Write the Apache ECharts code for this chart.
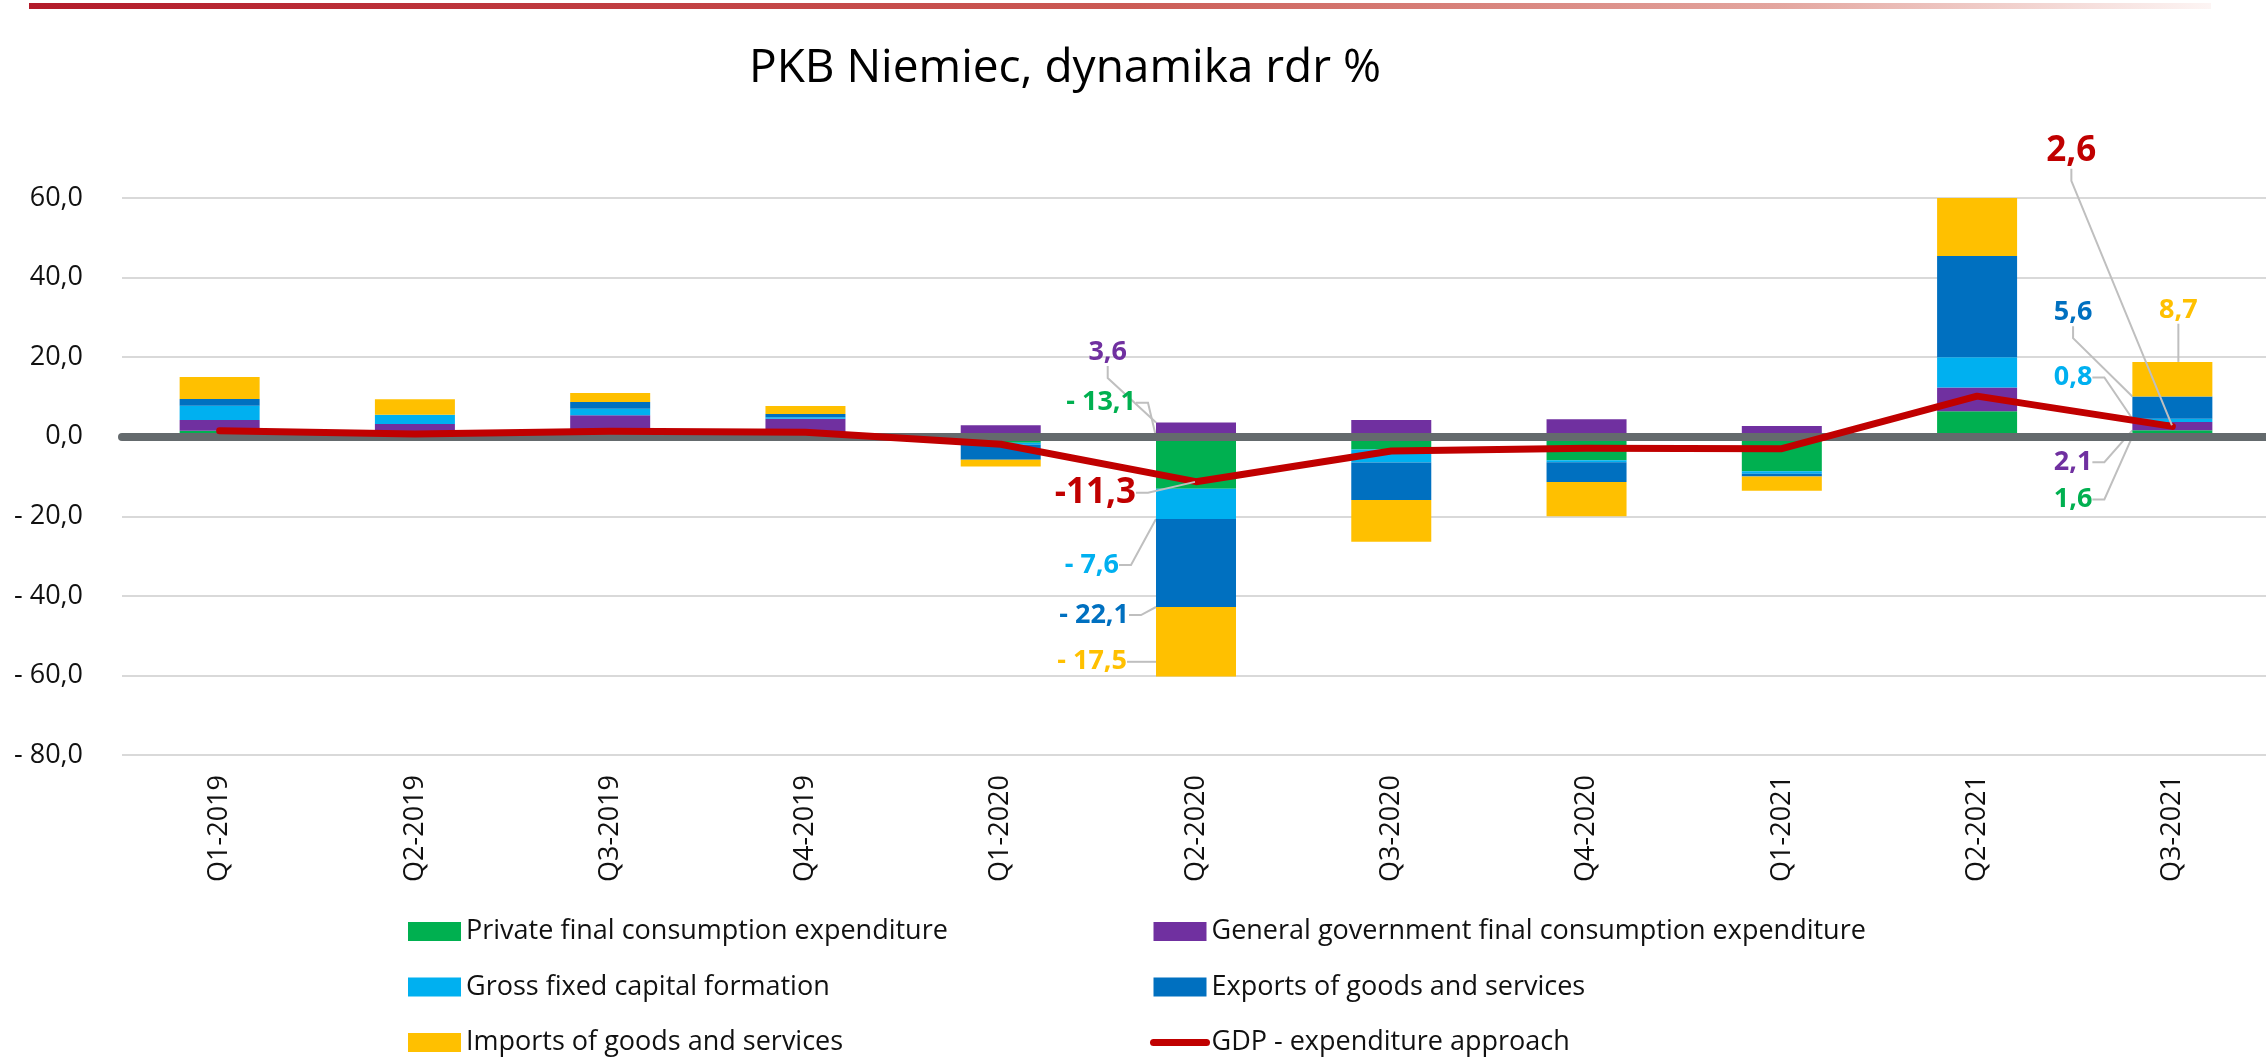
<!DOCTYPE html>
<html>
<head>
<meta charset="utf-8">
<title>PKB Niemiec, dynamika rdr %</title>
<script src="https://cdn.jsdelivr.net/npm/echarts@6.0.0/dist/echarts.min.js"></script>
<style>
  html, body { margin: 0; padding: 0; background: #fff; }
  #chart { width: 2266px; height: 1060px; }
</style>
</head>
<body>
<div id="chart"></div>
<script>
const quarters = ["Q1-2019", "Q2-2019", "Q3-2019", "Q4-2019", "Q1-2020", "Q2-2020",
  "Q3-2020", "Q4-2020", "Q1-2021", "Q2-2021", "Q3-2021"];

const privateCons = [1.5, 0.6, 1.6, 0.8, -1.5, -13.1, -3.2, -5.9, -8.7, 6.4, 1.6];
const govCons = [2.7, 2.6, 3.8, 3.7, 2.9, 3.6, 4.2, 4.4, 2.7, 6.0, 2.1];
const gfcf = [3.6, 2.3, 1.6, 0.4, -0.5, -7.6, -3.3, -0.5, -0.6, 7.6, 0.8];
const exportsGs = [1.7, -0.3, 1.7, 0.8, -3.8, -22.1, -9.4, -5.0, -0.7, 25.4, 5.6];
const importsGs = [5.5, 3.9, 2.3, 2.0, -1.7, -17.5, -10.5, -8.6, -3.6, 14.6, 8.7];
const gdp = [1.5, 0.7, 1.4, 1.1, -1.9, -11.3, -3.6, -2.9, -3.0, 10.2, 2.6];

const yTicks = [60, 40, 20, 0, -20, -40, -60, -80];
const labelled = [5, 10]; // quarters with callouts

const FONT = "'Open Sans', 'Noto Sans', sans-serif";

function fmt(v, spaced) {
  const s = Math.abs(v).toFixed(1).replace(".", ",");
  if (v < 0) return (spaced ? "- " : "-") + s;
  return s;
}

// callout offsets (px) from segment: [dx from bar left edge, dy from segment centre, align]
const barCallouts = {
  0: { 5: [-20, -60], 10: [-40, 66] },
  1: { 5: [-29, -77], 10: [-40, 36] },
  2: { 5: [-37, 61], 10: [-40, -43] },
  3: { 5: [-27, 52], 10: [-40, -95] },
  4: { 5: [-29, 20], 10: [46, -69, "center"] }
};
const gdpCallouts = { 5: [-60, 11], 10: [-76, -275] };

const comps = [
  { name: "Private final consumption expenditure", values: privateCons, color: "#00B050" },
  { name: "General government final consumption expenditure", values: govCons, color: "#7030A0" },
  { name: "Gross fixed capital formation", values: gfcf, color: "#00B0F0" },
  { name: "Exports of goods and services", values: exportsGs, color: "#0070C0" },
  { name: "Imports of goods and services", values: importsGs, color: "#FFC000" }
];
const gdpName = "GDP - expenditure approach";

const leaderLine = { show: true, length2: 12, lineStyle: { color: "#BFBFBF", width: 2 } };

function spotLine(si, i) {
  if (si === 4 && i === 10) return { show: true, length2: 0 };
  return { show: true };
}

const barSeries = comps.map(function (c, si) {
  return {
    name: c.name,
    type: "bar",
    stack: "total",
    barWidth: 80,
    z: 2,
    itemStyle: { color: c.color },
    label: {
      show: false,
      color: c.color,
      fontFamily: FONT,
      fontWeight: "bold",
      fontSize: 27,
      formatter: function (p) { return fmt(p.value, true); }
    },
    labelLine: leaderLine,
    labelLayout: function (p) {
      const spot = barCallouts[si] && barCallouts[si][p.dataIndex];
      if (!spot) return {};
      const r = p.rect;
      return {
        x: r.x + spot[0],
        y: r.y + r.height / 2 + spot[1],
        align: spot[2] || "right",
        verticalAlign: "middle"
      };
    },
    data: c.values.map(function (v, i) {
      return labelled.indexOf(i) >= 0
        ? { value: v, label: { show: true }, labelLine: spotLine(si, i) }
        : v;
    })
  };
});

const gdpSeries = {
  name: gdpName,
  type: "line",
  z: 6,
  symbol: "none",
  lineStyle: { color: "#C00000", width: 7, cap: "round", join: "round" },
  itemStyle: { color: "#C00000" },
  label: {
    show: false,
    color: "#C00000",
    fontFamily: FONT,
    fontWeight: "bold",
    fontSize: 35,
    formatter: function (p) { return fmt(p.value, false); }
  },
  labelLine: leaderLine,
  labelLayout: function (p) {
    const spot = gdpCallouts[p.dataIndex];
    if (!spot) return {};
    const r = p.rect;
    return {
      x: r.x + r.width / 2 + spot[0],
      y: r.y + r.height / 2 + spot[1],
      align: "right",
      verticalAlign: "middle"
    };
  },
  data: gdp.map(function (v, i) {
    return labelled.indexOf(i) >= 0
      ? { value: v, symbol: "circle", symbolSize: 2, label: { show: true } }
      : v;
  })
};

const legendText = { fontFamily: FONT, fontSize: 27, color: "#111", lineHeight: 26 };

function legendCol(left, names) {
  return {
    orient: "vertical",
    left: left,
    top: 918,
    padding: 0,
    height: 140,
    itemWidth: 53,
    itemHeight: 19,
    itemGap: 28.5,
    textStyle: legendText,
    lineStyle: { width: 7, cap: "round" },
    data: names.map(function (n) {
      return n === gdpName
        ? { name: n, itemStyle: { opacity: 0 } }
        : { name: n, icon: "rect" };
    })
  };
}

const chart = echarts.init(document.getElementById("chart"));
chart.setOption({
  animation: false,
  backgroundColor: "#fff",
  textStyle: { fontFamily: FONT },
  title: {
    text: "PKB Niemiec, dynamika rdr %",
    left: 1060,
    top: 41,
    textAlign: "center",
    textStyle: { fontFamily: FONT, fontSize: 46, fontWeight: "normal", color: "#000" }
  },
  graphic: [{
    type: "rect",
    shape: { x: 29, y: 3, width: 2182, height: 6 },
    silent: true,
    style: {
      fill: new echarts.graphic.LinearGradient(0, 0, 1, 0, [
        { offset: 0, color: "#B31B2A" },
        { offset: 0.5, color: "#CB5A54" },
        { offset: 0.8, color: "#E3A59E" },
        { offset: 1, color: "#FDF5F4" }
      ])
    }
  }],
  grid: {
    left: 122,
    top: 198,
    width: 2148,
    height: 557,
    containLabel: false,
    outerBoundsMode: "none"
  },
  legend: [
    legendCol(408, [comps[0].name, comps[2].name, comps[4].name]),
    legendCol(1150, [comps[1].name, comps[3].name, gdpName])
  ],
  xAxis: [
    {
      type: "category",
      data: quarters,
      position: "bottom",
      axisLine: { show: false, onZero: false },
      axisTick: { show: false },
      axisLabel: { rotate: 90, margin: 20, fontSize: 27, fontFamily: FONT, color: "#111" }
    },
    {
      type: "category",
      data: quarters,
      position: "top",
      z: 4,
      axisLine: { show: true, onZero: true, lineStyle: { color: "#646A6D", width: 8 } },
      axisTick: { show: false },
      axisLabel: { show: false }
    }
  ],
  yAxis: {
    type: "value",
    min: yTicks[yTicks.length - 1],
    max: yTicks[0],
    interval: 20,
    axisLine: { show: false },
    axisTick: { show: false },
    splitLine: { lineStyle: { color: "#D9D9D9", width: 2 } },
    axisLabel: {
      margin: 39,
      fontSize: 27,
      fontFamily: FONT,
      color: "#111",
      formatter: function (v) { return fmt(v, true); }
    }
  },
  series: barSeries.concat([gdpSeries])
});
</script>
</body>
</html>
